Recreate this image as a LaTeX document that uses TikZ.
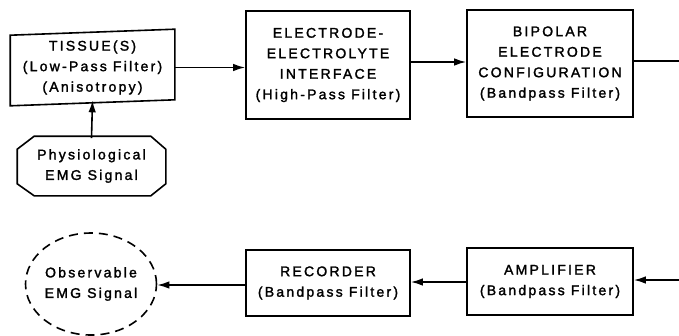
\documentclass[tikz,border=0pt]{standalone}
\usepackage{fontspec}
\setmainfont{Liberation Sans}[FakeBold=1.8,LetterSpace=16]
\usetikzlibrary{arrows.meta,shapes.geometric}
\begin{document}
\begin{tikzpicture}[x=1pt,y=-1pt,
  line width=1.6pt,
  txt/.style={align=center,font=\fontsize{14}{20.5}\selectfont,inner sep=0pt},
  blk/.style={txt,draw,minimum width=164pt},
  arr/.style={-{Latex[length=12pt,width=7.5pt]}},
]
\useasboundingbox (0,0) rectangle (679,335);
% top row
\node[txt,minimum width=163pt,minimum height=70pt] (tissue) at (92.5,67.5)
  {TISSUE(S)\\(Low-Pass Filter)\\(Anisotropy)};
\draw ([yshift=-3.5pt]tissue.north west) -- ([yshift=2.5pt]tissue.north east)
  -- ([yshift=3.5pt]tissue.south east) -- ([yshift=-2.5pt]tissue.south west) -- cycle;
\node[blk,minimum height=108pt] (elec) at (328,65)
  {ELECTRODE-\\ELECTROLYTE\\INTERFACE\\(High-Pass Filter)};
\node[blk,minimum width=166pt,minimum height=107pt] (bip) at (550,63.5)
  {BIPOLAR\\ELECTRODE\\CONFIGURATION\\(Bandpass Filter)};
% source
\node[txt,minimum width=147pt,minimum height=58pt] (phys) at (91.5,166)
  {Physiological\\EMG Signal};
\draw ([xshift=17pt]phys.north west) -- ([xshift=-15pt]phys.north east)
  -- ([yshift=-13pt]phys.north east) -- ([yshift=12pt]phys.south east)
  -- ([xshift=-15pt]phys.south east) -- ([xshift=17pt]phys.south west)
  -- ([yshift=12pt]phys.south west) -- ([yshift=-13pt]phys.north west) -- cycle;
% bottom row
\node[txt,draw,dash pattern=on 9pt off 6pt,ellipse,minimum width=126pt,minimum height=102pt] (obs) at (91,284)
  {Observable\\EMG Signal};
\node[blk,minimum height=66pt] (rec) at (328,283)
  {RECORDER\\(Bandpass Filter)};
\node[blk,minimum width=166pt,minimum height=67pt] (amp) at (550,281.5)
  {AMPLIFIER\\(Bandpass Filter)};
\coordinate (outR) at (679,61);
\coordinate (inR) at (679,280);
% connectors
\draw[arr] ([yshift=-2pt]phys.north) -- ([yshift=3pt]tissue.south);
\draw[arr] (tissue.east) -- (elec.west |- tissue.east);
\draw[arr] (elec.east |- 0,62) -- (bip.west |- 0,62);
\draw (bip.east |- outR) -- (outR);
\draw[arr] (inR) -- (amp.east |- inR);
\draw[arr] (amp.west |- 0,282) -- (rec.east |- 0,282);
\draw[arr] (rec.west |- 0,285) -- (obs.east |- 0,285);
\end{tikzpicture}
\end{document}
